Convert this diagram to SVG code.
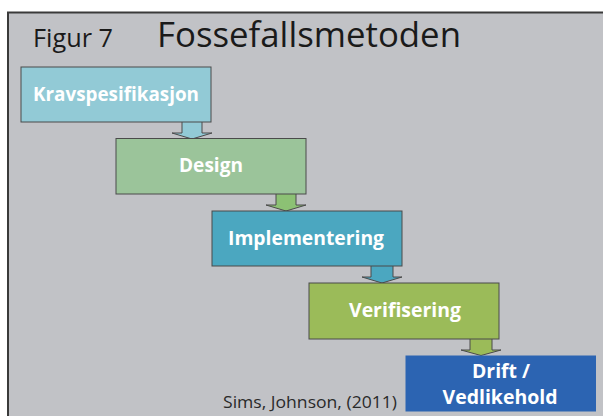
<svg xmlns="http://www.w3.org/2000/svg" width="603" height="416" viewBox="0 0 603 416">
  <style>
    .box { stroke: #4a4a4a; stroke-width: 1; }
    .arrow { stroke: #4a4a4a; stroke-width: 1; stroke-linejoin: miter; }
    .label { font-family: "Open Sans", "Liberation Sans", sans-serif; font-weight: bold; font-size: 19.5px; fill: #ffffff; text-anchor: middle; }
    .title { font-family: "Open Sans", "Liberation Sans", sans-serif; fill: #1a1a1a; }
    .credit { font-family: "Open Sans", "Liberation Sans", sans-serif; font-size: 16px; fill: #2a2a2a; }
  </style>

  <!-- page background and slide frame -->
  <rect x="0" y="0" width="603" height="416" fill="#ffffff"/>
  <rect x="8" y="12.5" width="600" height="410" fill="#c1c2c6" stroke="#3a3a3a" stroke-width="2"/>

  <!-- headings -->
  <text class="title" x="33" y="47" font-size="25" textLength="80" lengthAdjust="spacingAndGlyphs">Figur 7</text>
  <text class="title" x="157" y="47" font-size="34" textLength="304" lengthAdjust="spacingAndGlyphs">Fossefallsmetoden</text>

  <!-- connectors: block arrows between phases -->
  <g id="connectors">
    <path class="arrow" fill="#92cad6" d="M182,122 V133 H172 L192,139 L212,133 H202 V122"/>
    <path class="arrow" fill="#8cc174" d="M276,194 V205 H266 L286,211 L306,205 H296 V194"/>
    <path class="arrow" fill="#4ba7c0" d="M371,266 V277 H362 L382,283 L402,277 H393 V266"/>
    <path class="arrow" fill="#9bbb59" d="M470,339 V350 H461 L481,355.5 L501,350 H492 V339"/>
  </g>

  <!-- phases -->
  <g id="kravspesifikasjon">
    <rect class="box" x="21" y="67" width="190" height="55" fill="#92cad6"/>
    <text class="label" x="116" y="100.5" textLength="166" lengthAdjust="spacingAndGlyphs">Kravspesifikasjon</text>
  </g>
  <g id="design">
    <rect class="box" x="116" y="138.5" width="190" height="55.5" fill="#9bc49a"/>
    <text class="label" x="211" y="172" textLength="64" lengthAdjust="spacingAndGlyphs">Design</text>
  </g>
  <g id="implementering">
    <rect class="box" x="212" y="211" width="190" height="55" fill="#4ba7c0"/>
    <text class="label" x="306" y="245" textLength="156" lengthAdjust="spacingAndGlyphs">Implementering</text>
  </g>
  <g id="verifisering">
    <rect class="box" x="309" y="283" width="190" height="56" fill="#9bbb59"/>
    <text class="label" x="405" y="317" textLength="112" lengthAdjust="spacingAndGlyphs">Verifisering</text>
  </g>
  <g id="drift">
    <rect x="405.5" y="355.5" width="190.5" height="56" fill="#2c64b2"/>
    <text class="label" x="501" y="377.5" textLength="58" lengthAdjust="spacingAndGlyphs">Drift /</text>
    <text class="label" x="500" y="403.5" textLength="115" lengthAdjust="spacingAndGlyphs">Vedlikehold</text>
  </g>

  <text class="credit" x="223" y="408" textLength="174" lengthAdjust="spacingAndGlyphs">Sims, Johnson, (2011)</text>
</svg>
